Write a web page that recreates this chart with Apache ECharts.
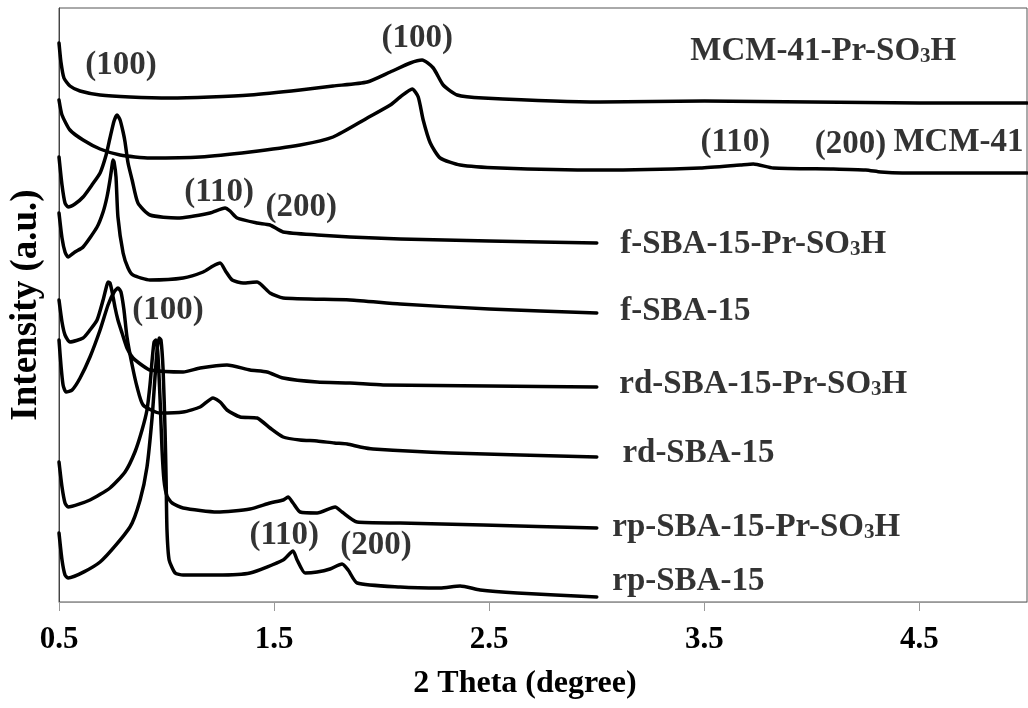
<!DOCTYPE html>
<html>
<head>
<meta charset="utf-8">
<script src="https://cdn.jsdelivr.net/npm/echarts@6/dist/echarts.min.js"></script>
<style>
html, body { margin: 0; padding: 0; background: #fff; }
#chart { width: 1028px; height: 708px; }
</style>
</head>
<body>
<div id="chart"></div>
<script>
// Low-angle XRD patterns of MCM-41 and SBA-15 samples, stacked with vertical offsets.
// Each trace: [2θ (degree), intensity (a.u., offset included)]

const tickLabels = ['0.5', '1.5', '2.5', '3.5', '4.5'];

const mcm41PrSO3H = [[0.5,559],[0.509,540],[0.523,524],[0.551,516],[0.598,511],[0.691,507],[0.83,505],[1.016,504],[1.202,505],[1.388,507],[1.621,512],[1.774,516],[1.933,520],[2.04,530],[2.133,539],[2.188,542],[2.24,534],[2.286,517],[2.351,507],[2.472,504],[3.016,500],[3.5,501],[4.0,500],[4.5,499],[5.0,499]];

const mcm41 = [[0.5,502],[0.514,487],[0.551,472],[0.612,462],[0.691,453],[0.784,447],[0.923,444],[1.156,445],[1.388,450],[1.621,457],[1.774,465],[1.933,484],[2.04,497],[2.086,505],[2.142,513],[2.17,505],[2.193,482],[2.226,459],[2.272,444],[2.365,437],[2.551,434],[3.016,432],[3.481,434],[3.667,437],[3.728,438],[3.821,434],[4.1,433],[4.25,432],[4.32,430],[4.42,429],[5.0,429]];

const fSBA15PrSO3H = [[0.5,445],[0.514,417],[0.528,399],[0.542,395],[0.574,398],[0.612,405],[0.653,417],[0.691,429],[0.719,447],[0.737,464],[0.756,481],[0.77,487],[0.784,482],[0.798,470],[0.807,460],[0.821,439],[0.84,422],[0.867,399],[0.923,387],[1.049,384],[1.202,389],[1.272,394],[1.295,391],[1.328,384],[1.421,379],[1.481,377],[1.542,370],[1.7,367],[1.853,365],[2.086,363],[2.5,361],[3.0,359]];

const fSBA15 = [[0.5,389],[0.514,364],[0.528,350],[0.542,345],[0.574,350],[0.612,355],[0.677,375],[0.705,390],[0.723,405],[0.737,422],[0.747,437],[0.751,442],[0.756,440],[0.765,425],[0.774,385],[0.798,349],[0.821,334],[0.844,327],[0.923,322],[1.077,324],[1.17,330],[1.216,336],[1.249,339],[1.277,330],[1.305,322],[1.356,319],[1.421,320],[1.481,309],[1.542,304],[1.853,302],[2.086,298],[2.5,293],[3.0,289]];

const rdSBA15PrSO3H = [[0.5,302],[0.514,280],[0.528,267],[0.551,260],[0.612,264],[0.644,272],[0.677,282],[0.705,302],[0.719,314],[0.728,320],[0.737,319],[0.747,310],[0.761,294],[0.774,282],[0.793,269],[0.816,254],[0.844,244],[0.891,236],[0.923,232],[1.077,230],[1.156,234],[1.281,237],[1.388,232],[1.467,230],[1.542,224],[1.7,220],[1.853,219],[2.007,217],[2.5,216],[3.0,215]];

const rdSBA15 = [[0.5,262],[0.509,237],[0.519,217],[0.533,210],[0.561,212],[0.598,224],[0.644,245],[0.691,272],[0.728,297],[0.756,310],[0.774,314],[0.788,310],[0.802,292],[0.816,265],[0.84,237],[0.863,215],[0.891,197],[0.97,189],[1.077,190],[1.156,195],[1.216,204],[1.249,200],[1.281,192],[1.342,185],[1.421,184],[1.481,174],[1.542,165],[1.62,162],[1.7,161],[1.78,159],[1.84,158],[1.9,155],[1.96,153],[2.319,149],[3.0,145]];

const rpSBA15PrSO3H = [[0.5,140],[0.514,115],[0.528,99],[0.542,95],[0.644,102],[0.737,114],[0.807,130],[0.853,150],[0.886,172],[0.909,192],[0.923,217],[0.933,242],[0.942,260],[0.951,262],[0.96,247],[0.97,202],[0.979,152],[0.988,122],[1.002,106],[1.026,99],[1.077,94],[1.235,90],[1.388,93],[1.481,99],[1.542,102],[1.565,105],[1.588,99],[1.621,90],[1.7,89],[1.784,95],[1.816,90],[1.886,80],[2.086,79],[2.472,77],[3.0,74]];

const rpSBA15 = [[0.5,69],[0.514,42],[0.528,27],[0.542,24],[0.691,40],[0.83,75],[0.877,102],[0.909,135],[0.933,185],[0.947,227],[0.956,252],[0.965,264],[0.974,262],[0.984,232],[0.993,172],[0.998,122],[1.002,72],[1.012,42],[1.04,29],[1.077,27],[1.235,27],[1.388,29],[1.542,42],[1.588,51],[1.607,42],[1.644,29],[1.7,30],[1.76,33],[1.816,38],[1.844,32],[1.886,19],[2.086,15],[2.272,14],[2.365,16],[2.458,12],[2.63,9],[3.0,5]];

const traceNames = ['MCM-41-Pr-SO3H', 'MCM-41', 'f-SBA-15-Pr-SO3H', 'f-SBA-15',
  'rd-SBA-15-Pr-SO3H', 'rd-SBA-15', 'rp-SBA-15-Pr-SO3H', 'rp-SBA-15'];
const traces = [mcm41PrSO3H, mcm41, fSBA15PrSO3H, fSBA15,
  rdSBA15PrSO3H, rdSBA15, rpSBA15PrSO3H, rpSBA15];

// sample names, placed at [2θ, intensity] with the text starting there
const sampleLabels = [
  [3.435, 551, 'MCM-41-Pr-SO3H'],
  [4.379, 460, 'MCM-41'],
  [3.109, 358, 'f-SBA-15-Pr-SO3H'],
  [3.109, 291, 'f-SBA-15'],
  [3.105, 218, 'rd-SBA-15-Pr-SO3H'],
  [3.119, 149, 'rd-SBA-15'],
  [3.072, 75, 'rp-SBA-15-Pr-SO3H'],
  [3.072, 21, 'rp-SBA-15']
];

// Miller indices of the reflections, centred at [2θ, intensity]
const peakLabels = [
  [0.788, 537, '(100)'],
  [2.165, 564, '(100)'],
  [3.644, 460, '(110)'],
  [4.179, 458, '(200)'],
  [1.244, 410, '(110)'],
  [1.626, 395, '(200)'],
  [1.007, 292, '(100)'],
  [1.547, 67, '(110)'],
  [1.974, 57, '(200)']
];

const FONT = '"Liberation Serif", "Times New Roman", serif';
const textStyle = size => ({ fontFamily: FONT, fontWeight: 'bold', fontSize: size, color: '#000' });
const subStyle = { fontFamily: FONT, fontWeight: 'bold', fontSize: 21, lineHeight: 15,
  verticalAlign: 'bottom', color: '#000' };

const fmtName = s => s.replace('SO3H', 'SO{sub|3}H');

const chart = echarts.init(document.getElementById('chart'), null, { renderer: 'canvas' });

const lineSeries = traces.map((d, i) => ({
  name: traceNames[i],
  type: 'line',
  data: d,
  showSymbol: false,
  smooth: 0.2,
  silent: true,
  lineStyle: { color: '#000', width: 3.5, cap: 'round', join: 'round' },
  z: 2
}));

chart.setOption({
  animation: false,
  backgroundColor: '#fff',
  grid: { left: 59, right: 1, top: 8, bottom: 106, show: true,
    borderColor: '#555', borderWidth: 1, backgroundColor: 'transparent' },
  xAxis: {
    type: 'value', min: 0.5, max: 5, interval: 1,
    name: '2 Theta (degree)', nameLocation: 'middle', nameGap: 66,
    nameTextStyle: Object.assign({ padding: [0, 36, 0, 0] }, textStyle(32)),
    axisLine: { show: true, lineStyle: { color: '#999', width: 1 } },
    axisTick: { show: true, length: 9, lineStyle: { color: '#999', width: 1 } },
    axisLabel: Object.assign({ margin: 22, showMaxLabel: false,
      formatter: v => tickLabels[Math.round(v - 0.5)] || '' }, textStyle(31)),
    splitLine: { show: false }
  },
  yAxis: {
    type: 'value', min: 0, max: 594,
    name: 'Intensity (a.u.)', nameLocation: 'middle', nameGap: 14,
    nameTextStyle: textStyle(37),
    axisLine: { show: true, lineStyle: { color: '#444', width: 1 } },
    axisTick: { show: false },
    axisLabel: { show: false },
    splitLine: { show: false }
  },
  series: lineSeries.concat([
    {
      type: 'scatter',
      silent: true,
      symbolSize: 0,
      data: sampleLabels.map(d => ({ value: [d[0], d[1]], name: d[2] })),
      label: Object.assign({ show: true, position: 'right', distance: 0, lineHeight: 33,
        formatter: p => fmtName(p.name), rich: { sub: subStyle } }, textStyle(33)),
      z: 3
    },
    {
      type: 'scatter',
      silent: true,
      symbolSize: 0,
      data: peakLabels.map(d => ({ value: [d[0], d[1]], name: d[2] })),
      label: Object.assign({ show: true, position: 'inside', lineHeight: 33,
        formatter: p => p.name }, textStyle(33)),
      z: 3
    }
  ])
});
</script>
</body>
</html>
